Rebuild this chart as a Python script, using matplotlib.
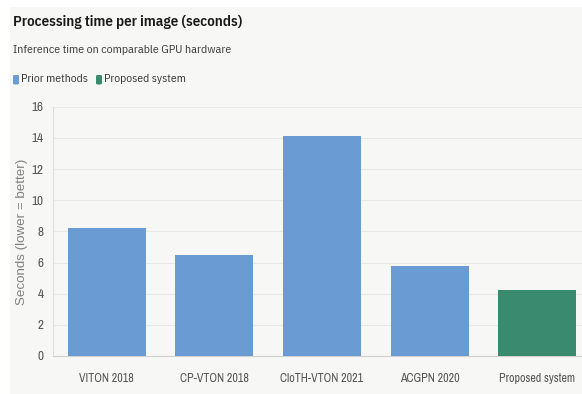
import matplotlib
matplotlib.use("Agg")
import matplotlib.pyplot as plt
from matplotlib.patches import Rectangle, FancyBboxPatch
from matplotlib import font_manager

methods = ["VITON 2018", "CP-VTON 2018", "CloTH-VTON 2021", "ACGPN 2020", "Proposed system"]
seconds = [8.2, 6.5, 14.1, 5.8, 4.25]
groups = ["prior", "prior", "prior", "prior", "proposed"]
yticks = [0, 2, 4, 6, 8, 10, 12, 14, 16]

palette = {"prior": "#6b9bd3", "proposed": "#3a8a6f"}
legend_labels = {"prior": "Prior methods", "proposed": "Proposed system"}

available = {f.name for f in font_manager.fontManager.ttflist}


def pick(options, default="DejaVu Sans"):
    for name in options:
        if name in available:
            return name
    return default


narrow = pick(["Liberation Sans Narrow", "Arimo Narrow", "Archivo Narrow", "PT Sans Narrow",
               "Roboto Condensed", "Asap Condensed"], "Roboto")
head = pick(["IBM Plex Sans Condensed", "Roboto Condensed", "Barlow Semi Condensed",
             "Asap Condensed"], "Roboto")
plain = pick(["Liberation Sans", "Arimo", "Roboto"])

panel_bg = "#f7f7f6"
fig = plt.figure(figsize=(5.82, 3.94), dpi=100, facecolor="white")
fig.patches.append(Rectangle((10 / 582, 0), 1, 1 - 7 / 394, transform=fig.transFigure,
                             facecolor=panel_bg, edgecolor="none", zorder=-10))

ax = fig.add_axes([53 / 582, 38 / 394, 538 / 582, 249.3 / 394])
ax.set_facecolor(panel_bg)
x = range(len(methods))
ax.bar(x, seconds, width=0.725, color=[palette[g] for g in groups], zorder=3)
ax.set_xlim(-0.5, 4.5)
ax.set_ylim(0, 16)
ax.set_yticks(yticks)
ax.set_xticks(list(x))
ax.set_xticklabels(methods, fontfamily=narrow, fontsize=8.6, color="#555555")
ax.set_yticklabels([str(t) for t in yticks], fontfamily=narrow, fontsize=9.5, color="#555555")
ax.tick_params(length=0, pad=7)
ax.tick_params(axis="x", pad=12)
ax.grid(axis="y", color="#e8e8e8", linewidth=0.8, zorder=0)
for s in ["top", "right"]:
    ax.spines[s].set_visible(False)
ax.spines["left"].set_color("#dddddd")
ax.spines["bottom"].set_color("#d0d0d0")
ax.set_ylabel("Seconds (lower = better)", fontfamily=plain, fontsize=9.6, color="#808080", labelpad=2)

fig.text(13 / 582, 1 - 22 / 394, "Processing time per image (seconds)", fontfamily=head,
         fontweight="semibold", fontsize=10.8, color="#1a1a1a", va="center")
fig.text(13 / 582, 1 - 50 / 394, "Inference time on comparable GPU hardware", fontfamily=head,
         fontsize=8.6, color="#3a3a3a", va="center")

lx = 13
for key in ["prior", "proposed"]:
    fig.patches.append(FancyBboxPatch((lx / 582, 1 - 84.5 / 394), 6 / 582, 9.5 / 394,
                                      boxstyle="round,pad=0,rounding_size=0.003",
                                      transform=fig.transFigure,
                                      facecolor=palette[key], edgecolor="none", zorder=2))
    fig.text((lx + 8) / 582, 1 - 79.5 / 394, legend_labels[key], fontfamily=head,
             fontsize=8.4, color="#333333", va="center")
    lx += 83

fig.savefig("out.png", dpi=100, facecolor="white")
